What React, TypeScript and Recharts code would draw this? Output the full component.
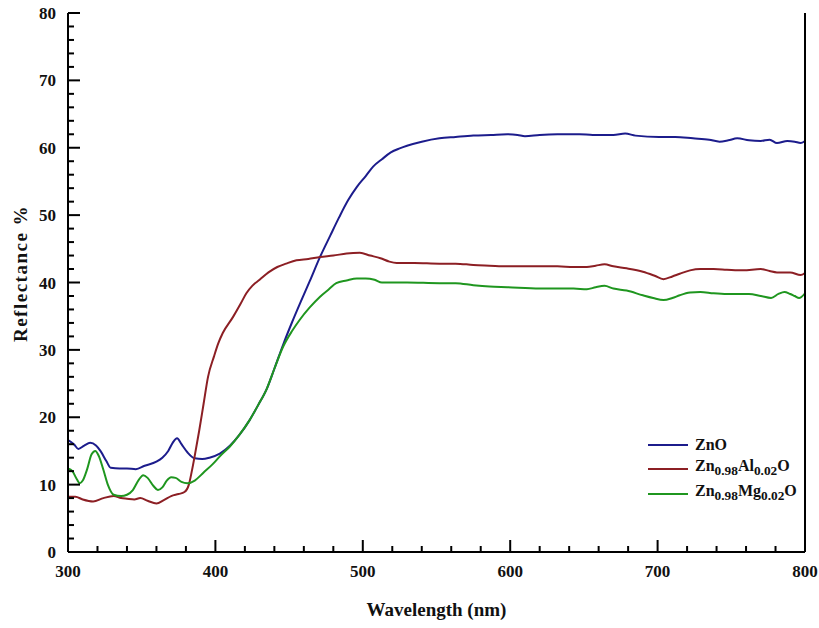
import React from 'react';
import { LineChart, Line, XAxis, YAxis } from 'recharts';

// Wavelength (nm) and reflectance (%)
const znoWl = [300, 304, 307, 311, 315, 319, 322, 326, 329, 335, 340, 346, 352, 360, 364, 368, 371, 374, 377, 381, 386, 391, 396, 403, 410, 416, 423, 429, 435, 440, 446, 452, 458, 464, 471, 478, 484, 490, 496, 502, 507, 513, 519, 525, 530, 540, 552, 563, 575, 587, 598, 605, 610, 620, 632, 647, 656, 670, 678, 685, 701, 712, 724, 735, 742, 748, 754, 762, 770, 776, 781, 788, 793, 797, 800];
const znoR = [16.6, 16.0, 15.3, 15.8, 16.2, 15.8, 15.0, 13.5, 12.5, 12.4, 12.4, 12.3, 12.8, 13.4, 14.0, 15.0, 16.2, 16.9, 16.0, 14.8, 13.9, 13.8, 14.0, 14.6, 15.8, 17.3, 19.5, 21.8, 24.3, 27.2, 30.8, 34.1, 37.2, 40.2, 43.8, 47.0, 49.7, 52.2, 54.2, 55.8, 57.2, 58.3, 59.3, 59.9, 60.3, 60.9, 61.4, 61.6, 61.8, 61.9, 62.0, 61.9, 61.7, 61.9, 62.0, 62.0, 61.9, 61.9, 62.1, 61.8, 61.6, 61.6, 61.4, 61.2, 60.9, 61.1, 61.4, 61.1, 61.0, 61.2, 60.7, 61.0, 60.9, 60.7, 61.0];

const alWl = [300, 305, 310, 317, 324, 331, 336, 340, 345, 349, 354, 360, 365, 370, 375, 379, 382, 384, 386, 389, 392, 395, 399, 402, 405, 412, 417, 421, 425, 430, 436, 442, 448, 455, 463, 471, 480, 489, 498, 505, 512, 518, 523, 535, 552, 563, 575, 586, 598, 610, 620, 632, 643, 652, 658, 664, 670, 679, 690, 698, 704, 710, 715, 722, 729, 738, 747, 758, 770, 776, 781, 790, 797, 800];
const alR = [8.2, 8.2, 7.8, 7.5, 8.0, 8.3, 8.0, 7.9, 7.8, 8.0, 7.6, 7.2, 7.7, 8.3, 8.6, 8.9, 10.0, 12.0, 14.3, 18.0, 22.0, 26.0, 29.0, 31.0, 32.5, 34.9, 36.8, 38.4, 39.5, 40.4, 41.5, 42.3, 42.8, 43.3, 43.5, 43.8, 44.0, 44.3, 44.4, 44.0, 43.6, 43.1, 42.9, 42.9, 42.8, 42.8, 42.6, 42.5, 42.4, 42.4, 42.4, 42.4, 42.3, 42.3, 42.5, 42.7, 42.4, 42.1, 41.6, 41.0, 40.5, 40.9, 41.3, 41.8, 42.0, 42.0, 41.9, 41.8, 42.0, 41.7, 41.5, 41.5, 41.1, 41.4];

const mgWl = [300, 303, 306, 308, 310, 313, 316, 318.5, 321, 324, 327, 331, 336, 340, 344, 348, 351, 354, 358, 361, 364, 367, 370, 373, 377, 381, 386, 392, 398, 403, 410, 416, 423, 429, 435, 440, 446, 452, 457, 464, 471, 477, 482, 489, 496, 502, 508, 513, 519, 530, 552, 563, 575, 586, 598, 620, 643, 652, 658, 664, 670, 679, 690, 697, 704, 710, 715, 722, 729, 738, 747, 762, 770, 777, 782, 786, 790, 793, 796, 800];
const mgR = [12.4, 12.0, 10.8, 10.2, 10.6, 12.3, 14.5, 15.0, 14.2, 12.2, 10.0, 8.5, 8.3, 8.5, 9.2, 10.7, 11.4, 11.0, 9.8, 9.2, 9.6, 10.6, 11.1, 11.0, 10.4, 10.2, 10.6, 11.8, 13.0, 14.2, 15.7, 17.3, 19.5, 21.8, 24.3, 27.2, 30.5, 32.8, 34.4, 36.3, 37.9, 39.0, 39.9, 40.3, 40.6, 40.6, 40.4, 40.0, 40.0, 40.0, 39.9, 39.9, 39.6, 39.4, 39.3, 39.1, 39.1, 39.0, 39.3, 39.5, 39.1, 38.8, 38.1, 37.7, 37.4, 37.7, 38.1, 38.5, 38.6, 38.4, 38.3, 38.3, 38.0, 37.7, 38.3, 38.6, 38.3, 38.0, 37.7, 38.4];

const xTicks = [300, 320, 340, 360, 380, 400, 420, 440, 460, 480, 500, 520, 540, 560, 580, 600, 620, 640, 660, 680, 700, 720, 740, 760, 780, 800];
const yTicks = [0, 2, 4, 6, 8, 10, 12, 14, 16, 18, 20, 22, 24, 26, 28, 30, 32, 34, 36, 38, 40, 42, 44, 46, 48, 50, 52, 54, 56, 58, 60, 62, 64, 66, 68, 70, 72, 74, 76, 78, 80];

const toPoints = (wl: number[], r: number[]) => wl.map((w, i) => ({ wl: w, r: r[i] }));

const zno = toPoints(znoWl, znoR);
const al = toPoints(alWl, alR);
const mg = toPoints(mgWl, mgR);

const FONT = '"Liberation Serif", "Times New Roman", serif';
const BLUE = '#1c1c8c';
const RED = '#8c1f24';
const GREEN = '#1f961f';

// inward ticks, label only every 100 nm
const XTick = ({ x, y, payload }: any) => {
  const major = payload.value % 100 === 0;
  return (
    <g>
      <line x1={x} x2={x} y1={y} y2={y - (major ? 12 : 6)} stroke="#000" strokeWidth={2} />
      {major && (
        <text x={x} y={y + 25} textAnchor="middle" fontFamily={FONT} fontWeight="bold" fontSize={17} fill="#111">
          {payload.value}
        </text>
      )}
    </g>
  );
};

const YTick = ({ x, y, payload }: any) => {
  const major = payload.value % 10 === 0;
  return (
    <g>
      <line x1={x} x2={x + (major ? 12 : 6)} y1={y} y2={y} stroke="#000" strokeWidth={2} />
      {major && (
        <text x={x - 12} y={y + 6} textAnchor="end" fontFamily={FONT} fontWeight="bold" fontSize={17} fill="#111">
          {payload.value}
        </text>
      )}
    </g>
  );
};

const legendItems = [
  { color: BLUE, label: <>ZnO</> },
  { color: RED, label: <>Zn<sub>0.98</sub>Al<sub>0.02</sub>O</> },
  { color: GREEN, label: <>Zn<sub>0.98</sub>Mg<sub>0.02</sub>O</> },
];

const LegendBox = () => (
  <div style={{ position: 'absolute', left: 648, top: 434, fontFamily: FONT, fontWeight: 'bold', fontSize: 16, color: '#111' }}>
    {legendItems.map((item, i) => (
      <div key={i} style={{ display: 'flex', alignItems: 'center', height: i === 0 ? 22 : 25, lineHeight: '16px' }}>
        <span style={{ display: 'inline-block', width: 40, height: 2, background: item.color, marginRight: 7 }} />
        <span style={{ whiteSpace: 'nowrap' }}>{item.label}</span>
      </div>
    ))}
  </div>
);

export default function App() {
  return (
    <div style={{ position: 'absolute', left: 0, top: 0, width: 819, height: 628, background: '#fff' }}>
      <LineChart width={819} height={628} margin={{ top: 13, right: 4, bottom: 46, left: 38 }}>
        <XAxis
          xAxisId="b"
          dataKey="wl"
          type="number"
          domain={[300, 800]}
          ticks={xTicks}
          height={30}
          tickSize={0}
          tickMargin={0}
          tick={<XTick />}
          tickLine={false}
          axisLine={{ stroke: '#000', strokeWidth: 2 }}
          allowDataOverflow
          interval={0}
          label={{
            content: ({ viewBox }: any) => (
              <text x={viewBox.x + viewBox.width / 2} y={viewBox.y + 64} textAnchor="middle" fontFamily={FONT} fontWeight="bold" fontSize={19} fill="#111">
                Wavelength (nm)
              </text>
            ),
          }}
        />
        <XAxis xAxisId="t" orientation="top" dataKey="wl" type="number" domain={[300, 800]} height={0} tick={false} tickLine={false} axisLine={{ stroke: '#000', strokeWidth: 2 }} />
        <YAxis
          yAxisId="l"
          type="number"
          domain={[0, 80]}
          ticks={yTicks}
          width={30}
          tickSize={0}
          tickMargin={0}
          tick={<YTick />}
          tickLine={false}
          axisLine={{ stroke: '#000', strokeWidth: 2 }}
          allowDataOverflow
          interval={0}
          label={{
            content: ({ viewBox }: any) => {
              const cx = viewBox.x + viewBox.width - 41;
              const cy = viewBox.y + viewBox.height / 2 - 9;
              return (
                <text x={cx} y={cy} transform={`rotate(-90, ${cx}, ${cy})`} textAnchor="middle" fontFamily={FONT} fontWeight="bold" fontSize={19} letterSpacing={1.5} fill="#111">
                  Reflectance %
                </text>
              );
            },
          }}
        />
        <YAxis yAxisId="r" orientation="right" type="number" domain={[0, 80]} width={10} tick={false} tickLine={false} axisLine={{ stroke: '#000', strokeWidth: 2 }} />
        <Line xAxisId="b" yAxisId="l" data={zno} dataKey="r" name="ZnO" type="monotone" stroke={BLUE} strokeWidth={2} dot={false} isAnimationActive={false} />
        <Line xAxisId="b" yAxisId="l" data={al} dataKey="r" name="Al" type="monotone" stroke={RED} strokeWidth={2} dot={false} isAnimationActive={false} />
        <Line xAxisId="b" yAxisId="l" data={mg} dataKey="r" name="Mg" type="monotone" stroke={GREEN} strokeWidth={2} dot={false} isAnimationActive={false} />
      </LineChart>
      <LegendBox />
    </div>
  );
}
